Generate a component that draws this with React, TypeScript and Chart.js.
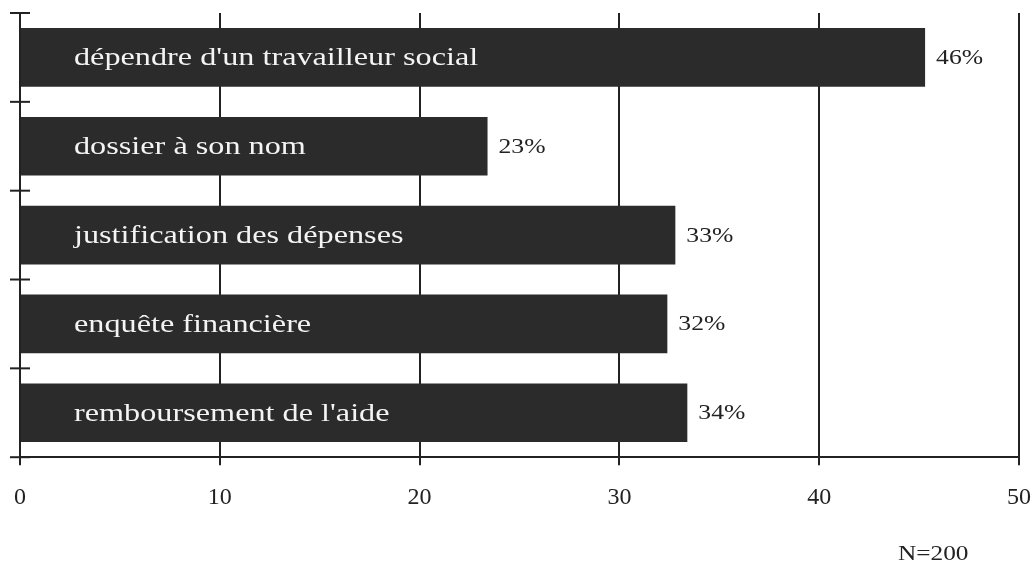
import React, { useEffect, useRef } from "react";
import { Chart, registerables } from "chart.js";

Chart.register(...registerables);

const categories: string[] = [
  "dépendre d'un travailleur social",
  "dossier à son nom",
  "justification des dépenses",
  "enquête financière",
  "remboursement de l'aide",
];
const values: number[] = [45.3, 23.4, 32.8, 32.4, 33.4];
const valueLabels: string[] = ["46%", "23%", "33%", "32%", "34%"];
const xTicks: number[] = [0, 10, 20, 30, 40, 50];
const footnote = "N=200";

const INK = "#222222";
const BAR = "#2b2b2b";

function drawStretched(
  ctx: CanvasRenderingContext2D,
  text: string,
  x: number,
  y: number,
  sx: number
) {
  ctx.save();
  ctx.translate(x, y);
  ctx.scale(sx, 1);
  ctx.fillText(text, 0, 0);
  ctx.restore();
}

const annotate = {
  id: "annotate",
  afterDraw(chart: any) {
    const ctx: CanvasRenderingContext2D = chart.ctx;
    const xs = chart.scales.x;
    const ys = chart.scales.y;
    const area = chart.chartArea;
    ctx.save();
    ctx.strokeStyle = INK;
    ctx.lineWidth = 2;
    const n = categories.length;
    const step = n > 1 ? ys.getPixelForValue(1) - ys.getPixelForValue(0) : 0;
    for (let i = 0; i <= n; i++) {
      const yb = ys.getPixelForValue(0) - step / 2 + step * i;
      ctx.beginPath();
      ctx.moveTo(area.left - 10, yb);
      ctx.lineTo(area.left + 10, yb);
      ctx.stroke();
    }
    const meta = chart.getDatasetMeta(0);
    ctx.textBaseline = "middle";
    ctx.textAlign = "left";
    meta.data.forEach((bar: any, i: number) => {
      ctx.fillStyle = "#f4f4f4";
      ctx.font = '26px "Liberation Serif"';
      drawStretched(ctx, categories[i], xs.getPixelForValue(0) + 54, bar.y + 1, 1.24);
      ctx.fillStyle = INK;
      ctx.font = '21px "Liberation Serif"';
      drawStretched(ctx, valueLabels[i], bar.x + 11, bar.y + 1, 1.22);
    });
    ctx.fillStyle = INK;
    ctx.font = '22px "Liberation Serif"';
    ctx.textBaseline = "alphabetic";
    drawStretched(ctx, footnote, chart.width - 133, chart.height - 4, 1.15);
    ctx.restore();
  },
};

export default function App() {
  const ref = useRef<HTMLCanvasElement | null>(null);
  useEffect(() => {
    if (!ref.current) return;
    const chart = new Chart(ref.current, {
      type: "bar",
      data: {
        labels: categories,
        datasets: [
          {
            data: values,
            backgroundColor: BAR,
            borderWidth: 0,
            barPercentage: 0.66,
            categoryPercentage: 1,
          },
        ],
      },
      options: {
        indexAxis: "y",
        animation: false,
        responsive: true,
        maintainAspectRatio: false,
        layout: { padding: { left: 20, right: 12, top: 13, bottom: 34 } },
        plugins: {
          legend: { display: false },
          tooltip: { enabled: false },
        },
        scales: {
          x: {
            type: "linear",
            min: xTicks[0],
            max: xTicks[xTicks.length - 1],
            afterBuildTicks: (scale: any) => {
              scale.ticks = xTicks.map((v) => ({ value: v }));
            },
            afterFit: (scale: any) => {
              scale.paddingLeft = 0;
              scale.paddingRight = 0;
            },
            ticks: {
              font: { family: "Liberation Serif", size: 24 },
              color: INK,
              padding: 18,
              maxRotation: 0,
            },
            grid: {
              color: INK,
              lineWidth: 2,
              tickLength: 8,
              drawTicks: true,
            },
            border: { display: true, color: INK, width: 2 },
          },
          y: {
            type: "category",
            grid: { display: false, drawTicks: false },
            ticks: { display: false },
            border: { display: true, color: INK, width: 2 },
            afterFit: (scale: any) => {
              scale.width = 0;
            },
          },
        },
      },
      plugins: [annotate],
    } as any);
    return () => chart.destroy();
  }, []);
  return (
    <div style={{ position: "fixed", left: 0, top: 0, width: 1031, height: 564 }}>
      <canvas ref={ref} />
    </div>
  );
}
